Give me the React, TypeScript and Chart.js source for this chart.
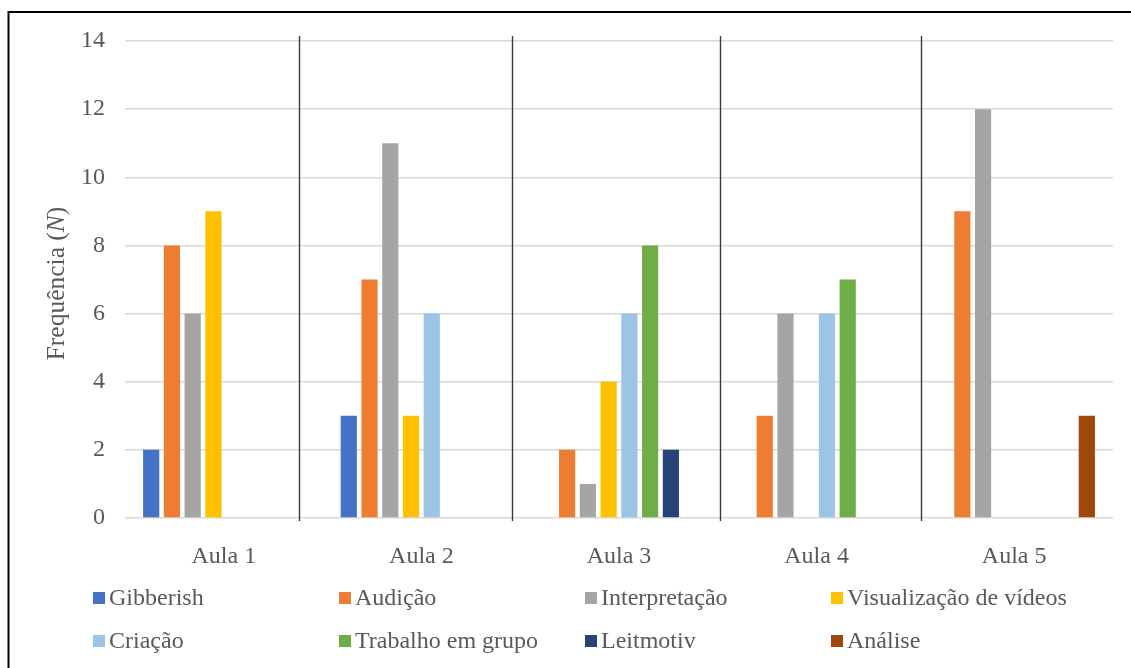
import { useEffect, useRef } from "react";
import { Chart, registerables } from "chart.js";

Chart.register(...registerables);

const categories = ["Aula 1", "Aula 2", "Aula 3", "Aula 4", "Aula 5"];
const gibberish = [2, 3, 0, 0, 0];
const audicao = [8, 7, 2, 3, 9];
const interpretacao = [6, 11, 1, 6, 12];
const visualizacao = [9, 3, 4, 0, 0];
const criacao = [0, 6, 6, 6, 0];
const trabalho = [0, 0, 8, 7, 0];
const leitmotiv = [0, 0, 2, 0, 0];
const analise = [0, 0, 0, 0, 3];

const seriesLabels = [
  "Gibberish",
  "Audição",
  "Interpretação",
  "Visualização de vídeos",
  "Criação",
  "Trabalho em grupo",
  "Leitmotiv",
  "Análise",
];
const seriesValues = [gibberish, audicao, interpretacao, visualizacao, criacao, trabalho, leitmotiv, analise];
const seriesColors = ["#4472C4", "#ED7D31", "#A5A5A5", "#FFC000", "#9DC3E6", "#70AD47", "#264478", "#9E480E"];

const yMin = 0;
const yMax = 14;
const yStep = 2;

// separator lines, positioned in category-index units
const separators = [0.381, 1.459, 2.511, 3.528];

const FONT = "'Liberation Serif', 'Times New Roman', serif";
const TEXT = "#595959";

const decorPlugin = {
  id: "decor",
  afterDatasetsDraw(chart: any) {
    const { ctx, chartArea, scales } = chart;
    ctx.save();
    ctx.strokeStyle = "#3a3a3a";
    ctx.lineWidth = 1.4;
    separators.forEach((v) => {
      const x = Math.round(scales.x.getPixelForValue(v)) + 0.5;
      ctx.beginPath();
      ctx.moveTo(x, chartArea.top - 5);
      ctx.lineTo(x, chartArea.bottom + 3);
      ctx.stroke();
    });
    ctx.restore();
  },
  afterDraw(chart: any) {
    const { ctx, chartArea } = chart;
    ctx.save();
    // outer frame
    ctx.strokeStyle = "#000";
    ctx.lineWidth = 2;
    ctx.beginPath();
    ctx.moveTo(8.5, chart.height + 5);
    ctx.lineTo(8.5, 12);
    ctx.lineTo(chart.width + 5, 12);
    ctx.stroke();

    // y title with italic N
    const cy = (chartArea.top + chartArea.bottom) / 2 + 4;
    ctx.translate(57, cy);
    ctx.rotate(-Math.PI / 2);
    ctx.fillStyle = TEXT;
    ctx.textBaseline = "middle";
    const parts = [
      { t: "Frequência (", f: `25.5px ${FONT}` },
      { t: "N", f: `italic 25.5px ${FONT}` },
      { t: ")", f: `25.5px ${FONT}` },
    ];
    let total = 0;
    parts.forEach((p) => {
      ctx.font = p.f;
      total += ctx.measureText(p.t).width;
    });
    let x = -total / 2;
    ctx.textAlign = "left";
    parts.forEach((p) => {
      ctx.font = p.f;
      ctx.fillText(p.t, x, 0);
      x += ctx.measureText(p.t).width;
    });
    ctx.restore();

    // legend grid
    ctx.save();
    ctx.font = `24px ${FONT}`;
    ctx.textBaseline = "middle";
    ctx.textAlign = "left";
    chart.data.datasets.forEach((ds: any, i: number) => {
      const col = i % 4;
      const row = Math.floor(i / 4);
      const bx = 93 + col * 246;
      const by = 598 + row * 43;
      ctx.fillStyle = ds.backgroundColor;
      ctx.fillRect(bx, by - 6, 12, 12);
      ctx.fillStyle = TEXT;
      ctx.fillText(ds.label, bx + 16, by + 1);
    });
    ctx.restore();
  },
};

export default function App() {
  const ref = useRef<HTMLCanvasElement | null>(null);

  useEffect(() => {
    if (!ref.current) return;
    const chart = new Chart(ref.current, {
      type: "bar",
      data: {
        labels: categories,
        datasets: seriesLabels.map((label, i) => ({
          label,
          data: seriesValues[i],
          backgroundColor: seriesColors[i],
          borderWidth: 0,
          categoryPercentage: 0.84,
          barPercentage: 0.78,
        })),
      },
      options: {
        responsive: false,
        animation: false,
        devicePixelRatio: 1,
        layout: { padding: { left: 0, top: 41, right: 18, bottom: 0 } },
        plugins: {
          legend: { display: false },
          tooltip: { enabled: false },
        },
        scales: {
          x: {
            grid: { display: false },
            border: { display: false },
            ticks: {
              color: TEXT,
              font: { family: FONT, size: 24 },
              padding: 16,
            },
            afterFit(scale: any) {
              scale.height = 150;
            },
          },
          y: {
            min: yMin,
            max: yMax,
            grid: { color: "#d9d9d9", lineWidth: 1.5, drawTicks: false },
            border: { display: false },
            ticks: {
              stepSize: yStep,
              color: TEXT,
              font: { family: FONT, size: 24 },
              padding: 20,
            },
            afterFit(scale: any) {
              scale.width = 125;
            },
          },
        },
      },
      plugins: [decorPlugin],
    });
    return () => chart.destroy();
  }, []);

  return (
    <div style={{ position: "absolute", left: 0, top: 0, width: 1131, height: 668, background: "#fff" }}>
      <canvas ref={ref} width={1131} height={668} style={{ width: 1131, height: 668, display: "block" }} />
    </div>
  );
}
